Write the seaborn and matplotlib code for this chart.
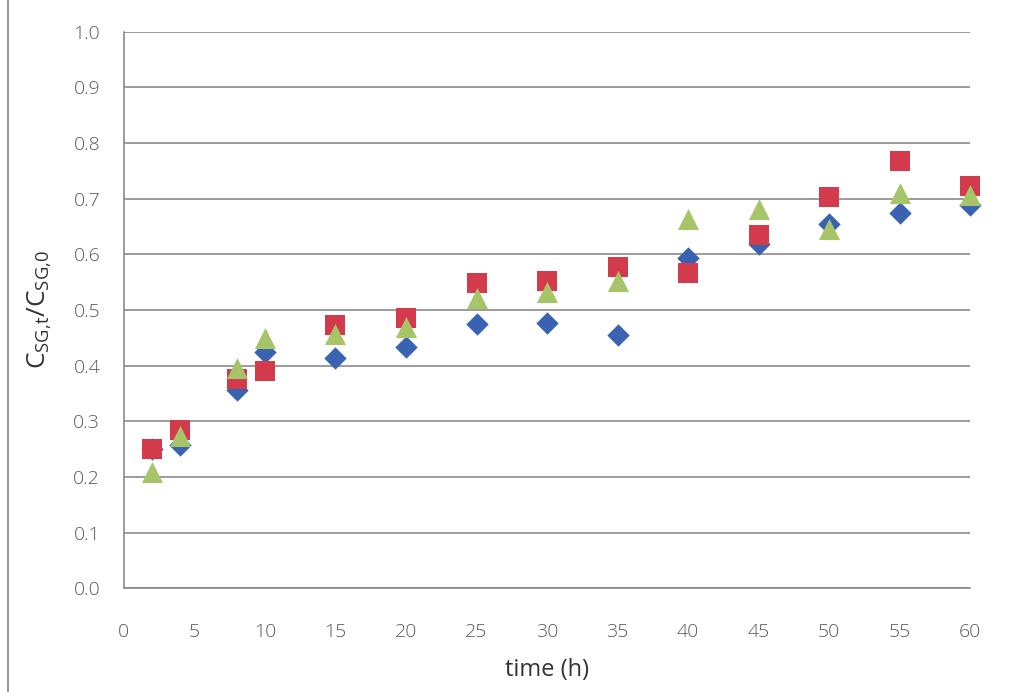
import numpy as np
import pandas as pd
import matplotlib
matplotlib.use("Agg")
import matplotlib.pyplot as plt
from matplotlib.lines import Line2D
import seaborn as sns

# Sampling times (h)
time_h = [2, 4, 8, 10, 15, 20, 25, 30, 35, 40, 45, 50, 55, 60]

# Relative concentration C_SG,t / C_SG,0 for the three runs
series_blue = [0.250, 0.258, 0.356, 0.424, 0.414, 0.433, 0.475, 0.477, 0.455, 0.594, 0.619, 0.655, 0.674, 0.689]
series_red = [0.250, 0.284, 0.376, 0.390, 0.473, 0.485, 0.549, 0.552, 0.577, 0.567, 0.635, 0.703, 0.768, 0.723]
series_green = [0.209, 0.274, 0.396, 0.450, 0.456, 0.470, 0.522, 0.532, 0.552, 0.664, 0.682, 0.646, 0.710, 0.707]

x_ticks = list(range(0, 61, 5))
y_ticks = [round(0.1 * i, 1) for i in range(11)]

sns.set_theme(style="white")
plt.rcParams["font.family"] = ["Open Sans", "DejaVu Sans"]

fig = plt.figure(figsize=(10.15, 6.92), dpi=100)
ax = fig.add_axes([0.122, 0.150, 0.834, 0.804])

runs = [
    (series_blue, "#3A62B3", "D", 130),
    (series_red, "#D33A4C", "s", 210),
    (series_green, "#A6C468", "^", 230),
]
for vals, color, marker, size in runs:
    df = pd.DataFrame({"time": time_h, "ratio": vals})
    sns.scatterplot(data=df, x="time", y="ratio", ax=ax, color=color,
                    marker=marker, s=size, linewidth=0, legend=False,
                    zorder=3, clip_on=False)

ax.set_xlim(0, 60)
ax.set_ylim(0, 1.0)
ax.set_xticks(x_ticks)
ax.set_yticks(y_ticks)
ax.set_xticklabels([str(t) for t in x_ticks])
ax.set_yticklabels([f"{t:.1f}" for t in y_ticks])

ax.grid(axis="y", color="#8a8a8a", linewidth=1.2)
ax.grid(axis="x", visible=False)
ax.set_axisbelow(True)

for side in ["top", "right"]:
    ax.spines[side].set_visible(False)
for side in ["left", "bottom"]:
    ax.spines[side].set_color("#8a8a8a")
    ax.spines[side].set_linewidth(1.2)

ax.tick_params(axis="both", which="major", direction="out", length=5, width=1.1,
               color="#8a8a8a", labelcolor="#5a5a5a", labelsize=14)
ax.tick_params(axis="x", pad=20)
ax.tick_params(axis="y", pad=12)
for lbl in ax.get_xticklabels() + ax.get_yticklabels():
    lbl.set_fontweight("light")

ax.set_xlabel("time (h)", fontsize=17, color="#333333", labelpad=12)
ax.set_ylabel(r"$\mathregular{C_{SG{,}t}/C_{SG{,}0}}$", fontsize=19, color="#333333", labelpad=14)

# thin frame edge on the left
fig.add_artist(Line2D([0.008, 0.008], [0.0, 1.0], transform=fig.transFigure,
                      color="#9a9a9a", linewidth=1.5))

fig.savefig("out.png", dpi=100)
